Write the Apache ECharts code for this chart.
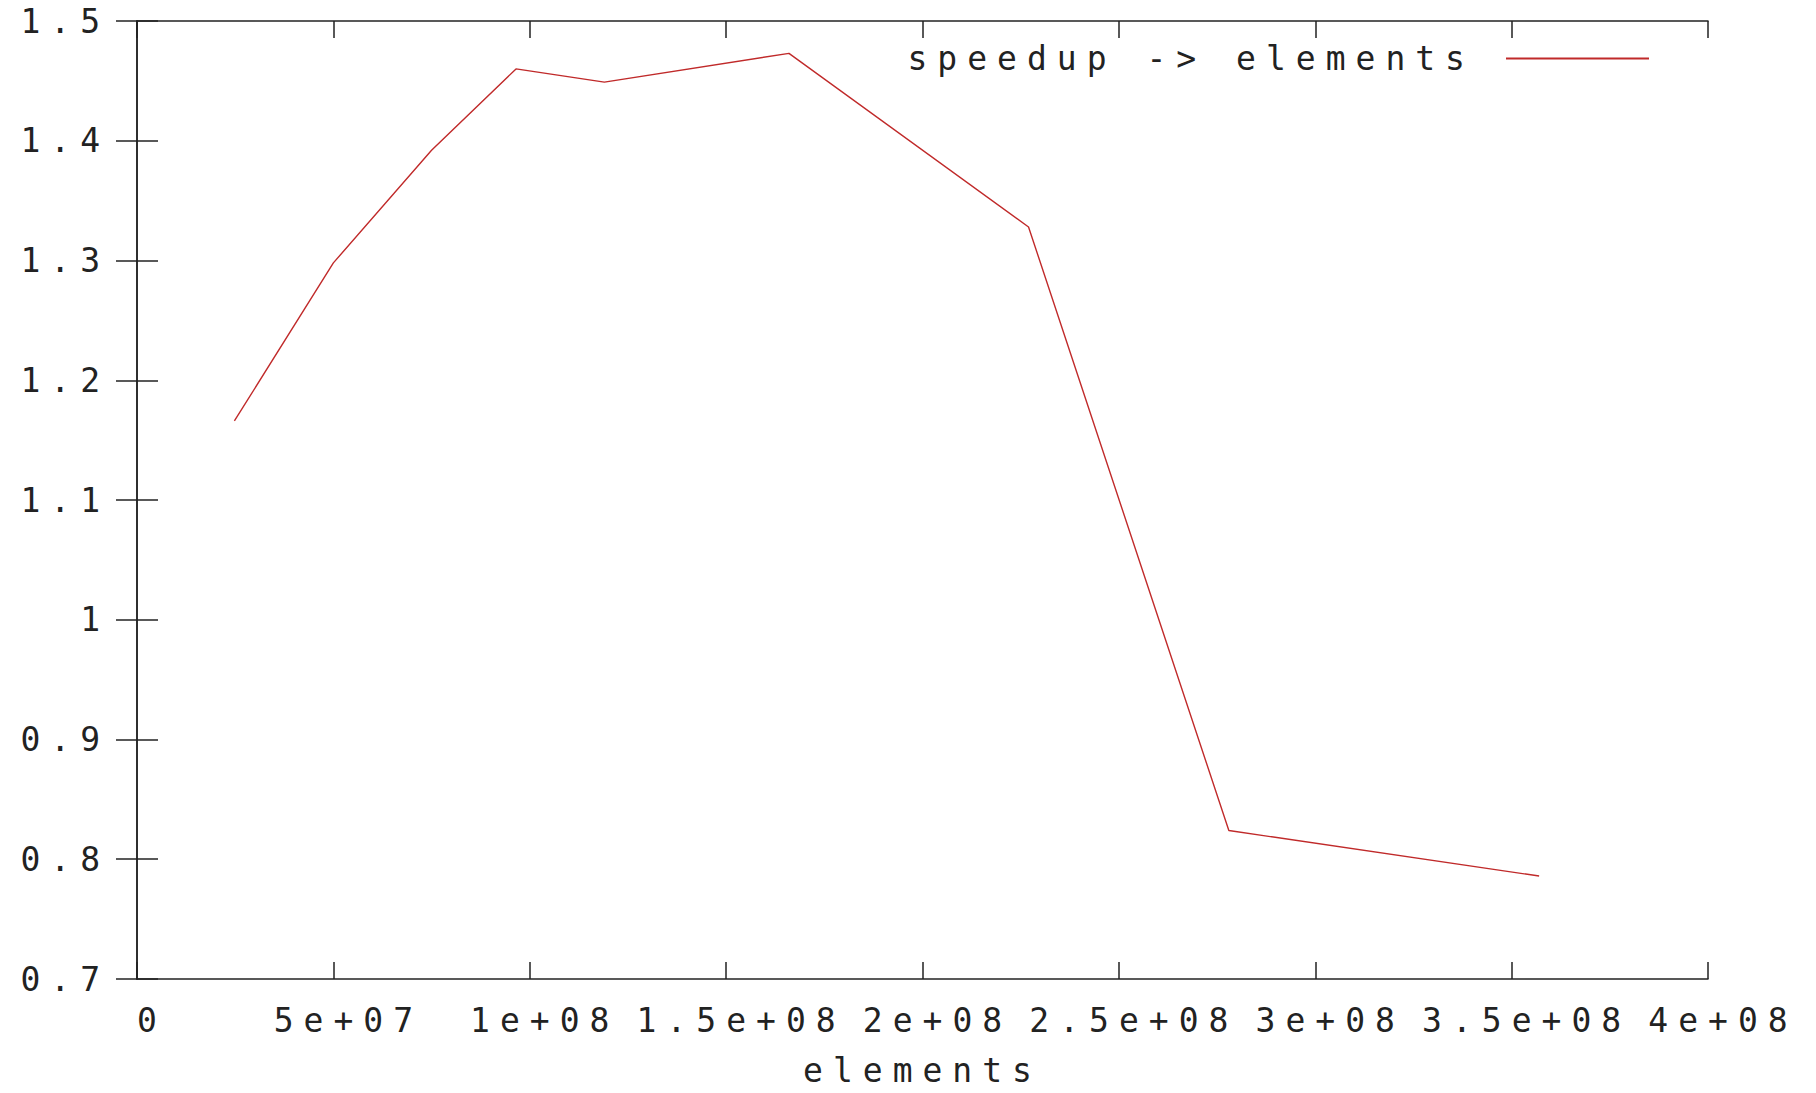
<!DOCTYPE html>
<html>
<head>
<meta charset="utf-8">
<script src="https://cdn.jsdelivr.net/npm/echarts@6/dist/echarts.min.js"></script>
<style>
html,body{margin:0;padding:0;background:#fff;}
#c{width:1816px;height:1093px;}
#c text{letter-spacing:10px;}
</style>
</head>
<body>
<div id="c"></div>
<script>
// Data
const elements = [2.48e7, 5.0e7, 7.5e7, 9.65e7, 1.19e8, 1.66e8, 2.27e8, 2.78e8, 3.57e8];
const speedup  = [1.166, 1.298, 1.392, 1.460, 1.449, 1.473, 1.328, 0.824, 0.786];
const xTickLabels = ['0', '5e+07', '1e+08', '1.5e+08', '2e+08', '2.5e+08', '3e+08', '3.5e+08', '4e+08'];
const yTickLabels = ['0.7', '0.8', '0.9', '1', '1.1', '1.2', '1.3', '1.4', '1.5'];
const seriesName = 'speedup -> elements';
const xName = 'elements';

const FONT = '"DejaVu Sans Mono", monospace';
const FS = 33;
const XSTEP = 5e7, YMIN = 0.7, YSTEP = 0.1;

const chart = echarts.init(document.getElementById('c'), null, {renderer: 'svg'});
const axisLine = {show: true, lineStyle: {color: '#222', width: 1.5}};
const xCommon = {
  type: 'value', min: 0, max: 4e8, interval: XSTEP,
  axisLine: axisLine, splitLine: {show: false},
  axisTick: {show: true, inside: true, length: 17, lineStyle: {color: '#222', width: 1.5}}
};
const yCommon = {
  type: 'value', min: YMIN, max: 1.5, interval: YSTEP,
  axisLine: axisLine, splitLine: {show: false},
  axisTick: {show: true, inside: true, length: 21, lineStyle: {color: '#222', width: 1.5}}
};
chart.setOption({
  animation: false,
  backgroundColor: '#fff',
  grid: {left: 137, right: 108, top: 21, bottom: 114, containLabel: false, outerBoundsMode: 'none'},
  legend: {
    right: 162, top: 37, align: 'right',
    itemWidth: 143, itemHeight: 2, itemGap: 0,
    icon: 'rect',
    textStyle: {fontFamily: FONT, fontSize: FS, color: '#222', padding: [0, 26, 0, 0]},
    data: [{name: seriesName, icon: 'rect'}]
  },
  xAxis: [
    Object.assign({}, xCommon, {
      position: 'bottom',
      name: xName, nameLocation: 'middle', nameGap: 75,
      nameTextStyle: {fontFamily: FONT, fontSize: FS, color: '#222', lineHeight: 33},
      axisLabel: {
        margin: 25, fontFamily: FONT, fontSize: FS, color: '#222',
        padding: [0, 0, 0, 30],
        formatter: v => xTickLabels[Math.round(v / XSTEP)]
      }
    }),
    Object.assign({}, xCommon, {position: 'top', axisLabel: {show: false}})
  ],
  yAxis: [
    Object.assign({}, yCommon, {
      position: 'left',
      axisLabel: {
        margin: 27, fontFamily: FONT, fontSize: FS, color: '#222',
        formatter: v => yTickLabels[Math.round((v - YMIN) / YSTEP)]
      }
    }),
    Object.assign({}, yCommon, {position: 'right', axisLabel: {show: false}})
  ],
  series: [{
    name: seriesName,
    type: 'line',
    xAxisIndex: 0, yAxisIndex: 0,
    data: elements.map((x, i) => [x, speedup[i]]),
    showSymbol: false, symbol: 'none',
    lineStyle: {color: '#c02a2a', width: 1.4},
    itemStyle: {color: '#c02a2a'}
  }]
});
</script>
</body>
</html>
